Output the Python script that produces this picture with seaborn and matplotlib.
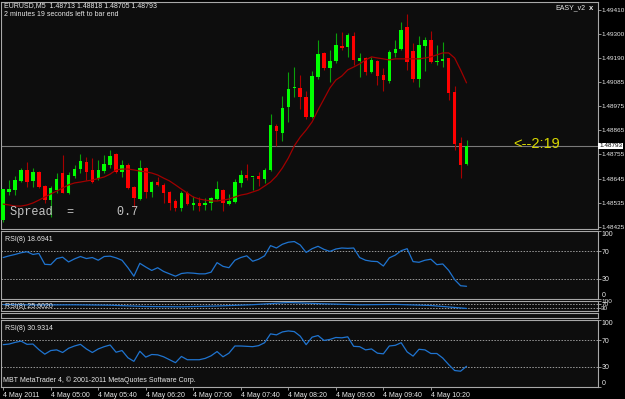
import matplotlib
matplotlib.use('Agg')
import matplotlib.pyplot as plt
import matplotlib.transforms as mtransforms
import numpy as np
import pandas as pd
import seaborn as sns

# EURUSD M5, 4 May 2011, bars from 04:20 to 10:50
opens = [1.48457, 1.48584, 1.48593, 1.48634, 1.48684, 1.48634, 1.48675, 1.48611, 1.48547, 1.48593,
         1.48670, 1.48579, 1.48656, 1.48688, 1.48720, 1.48684, 1.48647, 1.48679, 1.48706, 1.48756,
         1.48675, 1.48706, 1.48606, 1.48552, 1.48693, 1.48584, 1.48629, 1.48616, 1.48584, 1.48543,
         1.48511, 1.48579, 1.48525, 1.48534, 1.48525, 1.48534, 1.48552, 1.48593, 1.48529, 1.48538,
         1.48625, 1.48661, 1.48652, 1.48656, 1.48643, 1.48684, 1.48883, 1.48852, 1.48970, 1.49056,
         1.49056, 1.49015, 1.48924, 1.49106, 1.49215, 1.49147, 1.49179, 1.49247, 1.49242, 1.49292,
         1.49179, 1.49192, 1.49129, 1.49179, 1.49115, 1.49088, 1.49215, 1.49233, 1.49333, 1.49224,
         1.49097, 1.49247, 1.49274, 1.49174, 1.49179, 1.49192, 1.49038, 1.48806, 1.48713]
highs = [1.48597, 1.48638, 1.48656, 1.48693, 1.48720, 1.48693, 1.48679, 1.48616, 1.48611, 1.48670,
         1.48752, 1.48675, 1.48706, 1.48756, 1.48743, 1.48738, 1.48729, 1.48752, 1.48774, 1.48761,
         1.48729, 1.48715, 1.48611, 1.48729, 1.48697, 1.48634, 1.48652, 1.48625, 1.48588, 1.48552,
         1.48588, 1.48588, 1.48566, 1.48561, 1.48557, 1.48561, 1.48634, 1.48597, 1.48575, 1.48643,
         1.48684, 1.48711, 1.48652, 1.48675, 1.48693, 1.48938, 1.48892, 1.49020, 1.49129, 1.49151,
         1.49115, 1.49042, 1.49133, 1.49274, 1.49219, 1.49228, 1.49306, 1.49310, 1.49306, 1.49310,
         1.49215, 1.49197, 1.49197, 1.49183, 1.49147, 1.49228, 1.49274, 1.49356, 1.49392, 1.49260,
         1.49292, 1.49287, 1.49315, 1.49251, 1.49265, 1.49192, 1.49065, 1.48833, 1.48818]
lows = [1.48448, 1.48570, 1.48570, 1.48629, 1.48606, 1.48606, 1.48602, 1.48534, 1.48470, 1.48579,
        1.48579, 1.48575, 1.48647, 1.48670, 1.48638, 1.48625, 1.48638, 1.48670, 1.48693, 1.48670,
        1.48652, 1.48597, 1.48516, 1.48547, 1.48557, 1.48561, 1.48611, 1.48534, 1.48502, 1.48497,
        1.48497, 1.48525, 1.48502, 1.48497, 1.48502, 1.48502, 1.48547, 1.48497, 1.48525, 1.48534,
        1.48606, 1.48638, 1.48593, 1.48611, 1.48625, 1.48679, 1.48793, 1.48815, 1.48902, 1.49015,
        1.48961, 1.48915, 1.48920, 1.49097, 1.49138, 1.49083, 1.49169, 1.49228, 1.49197, 1.49160,
        1.49106, 1.49115, 1.49124, 1.49070, 1.49042, 1.49079, 1.49197, 1.49228, 1.49138, 1.49083,
        1.49060, 1.49133, 1.49169, 1.49160, 1.49151, 1.49001, 1.48774, 1.48647, 1.48705]
closes = [1.48597, 1.48597, 1.48638, 1.48684, 1.48629, 1.48675, 1.48606, 1.48547, 1.48602, 1.48643,
          1.48579, 1.48661, 1.48688, 1.48725, 1.48675, 1.48629, 1.48684, 1.48711, 1.48747, 1.48675,
          1.48706, 1.48602, 1.48557, 1.48693, 1.48584, 1.48629, 1.48616, 1.48579, 1.48534, 1.48511,
          1.48579, 1.48529, 1.48534, 1.48520, 1.48534, 1.48557, 1.48597, 1.48534, 1.48543, 1.48629,
          1.48661, 1.48647, 1.48654, 1.48643, 1.48684, 1.48888, 1.48861, 1.48965, 1.49051, 1.49060,
          1.49015, 1.48924, 1.49110, 1.49210, 1.49147, 1.49179, 1.49251, 1.49238, 1.49297, 1.49183,
          1.49192, 1.49129, 1.49183, 1.49110, 1.49092, 1.49219, 1.49233, 1.49319, 1.49174, 1.49097,
          1.49251, 1.49274, 1.49174, 1.49179, 1.49188, 1.49033, 1.48802, 1.48706, 1.48793]
ma = [1.48529, 1.48525, 1.48520, 1.48520, 1.48525, 1.48534, 1.48547, 1.48561, 1.48575, 1.48588,
      1.48602, 1.48616, 1.48625, 1.48629, 1.48634, 1.48638, 1.48645, 1.48652, 1.48665, 1.48684,
      1.48688, 1.48688, 1.48684, 1.48679, 1.48675, 1.48670, 1.48661, 1.48647, 1.48634, 1.48616,
      1.48597, 1.48579, 1.48561, 1.48552, 1.48547, 1.48543, 1.48543, 1.48547, 1.48552, 1.48561,
      1.48570, 1.48575, 1.48584, 1.48593, 1.48611, 1.48629, 1.48656, 1.48693, 1.48738, 1.48793,
      1.48833, 1.48865, 1.48902, 1.48956, 1.49006, 1.49056, 1.49092, 1.49110, 1.49138, 1.49151,
      1.49165, 1.49183, 1.49197, 1.49192, 1.49188, 1.49183, 1.49188, 1.49188, 1.49188, 1.49188,
      1.49188, 1.49192, 1.49197, 1.49206, 1.49215, 1.49215, 1.49192, 1.49138, 1.49079]

rsi_top = [61, 63.5, 65.5, 68, 69.5, 65.5, 67, 51, 50.5, 59.5,
           61.5, 54.5, 59, 62.5, 59.5, 61, 57, 62.5, 63, 60.5,
           57, 46, 33.5, 52.5, 47, 42, 46, 40.5, 37, 33.5,
           37.5, 38.5, 38, 37, 37, 39.5, 53.5, 48, 46, 57,
           61, 63.5, 55.5, 58.5, 63.5, 78.5, 75, 80.5, 83.5, 84.5,
           79.5, 68.5, 74, 77.5, 73, 70, 73.5, 75, 74.5, 75,
           61, 57, 55.5, 55, 48.5, 60.5, 64.5, 71, 74, 55,
           54, 57, 58.5, 50.5, 51.5, 42, 28.5, 19.5, 18.69]
rsi_bottom = [63.2, 64.1, 66.6, 68.5, 63.7, 64.1, 55.8, 49.0, 54.4, 55.4,
              51.5, 57.8, 61.2, 63.7, 56.8, 51.5, 56.8, 60.2, 62.7, 51.9,
              54.4, 43.6, 38.3, 53.4, 44.6, 48.5, 48.0, 45.1, 40.7, 36.3,
              45.6, 40.7, 40.7, 40.7, 42.7, 46.6, 52.9, 45.1, 50.5, 61.2,
              61.2, 60.7, 60.2, 61.7, 66.1, 79.3, 77.8, 82.2, 83.7, 82.7,
              75.9, 63.2, 74.4, 76.8, 69.5, 71.0, 73.9, 73.4, 74.9, 60.7,
              60.2, 55.4, 56.8, 50.5, 49.5, 61.2, 62.2, 66.1, 52.4, 46.1,
              56.3, 55.4, 50.0, 50.0, 43.2, 33.4, 24.6, 23.6, 30.93]
# squashed middle window, only readable every few bars
rsi_mid_bars = [0, 6, 12, 18, 24, 30, 36, 42, 48, 54, 60, 66, 72, 78]
rsi_mid = [64, 60, 62, 58, 45, 42, 50, 63, 85, 72, 62, 66, 55, 25.6]

price_ticks = [1.49410, 1.49300, 1.49190, 1.49085, 1.48975, 1.48865, 1.48755, 1.48645, 1.48535, 1.48425]
time_bars = [0, 8, 16, 24, 32, 40, 48, 56, 64, 72]
time_labels = ['4 May 2011', '4 May 05:00', '4 May 05:40', '4 May 06:20', '4 May 07:00',
               '4 May 07:40', '4 May 08:20', '4 May 09:00', '4 May 09:40', '4 May 10:20']
last_price = 1.48793

df = pd.DataFrame({'open': opens, 'high': highs, 'low': lows, 'close': closes,
                   'ma': ma, 'rsi_top': rsi_top, 'rsi_bottom': rsi_bottom})
df['bar'] = np.arange(len(df))
up = df['close'] >= df['open']

sns.set_style('dark', {'axes.facecolor': '#0d0d0d', 'figure.facecolor': 'black',
                       'axes.edgecolor': '#a8a8a8', 'axes.grid': False})
plt.rcParams['font.family'] = ['Liberation Sans', 'DejaVu Sans']

W, H = 625, 399
def box(x0, y0, x1, y1):
    return [x0 / W, 1 - y1 / H, (x1 - x0) / W, (y1 - y0) / H]

fig = plt.figure(figsize=(6.25, 3.99), dpi=100, facecolor='black')
ax = fig.add_axes(box(1.5, 2, 597.5, 229))
ax_r1 = fig.add_axes(box(1.5, 231, 597.5, 299))
ax_r2 = fig.add_axes(box(1.5, 301, 597.5, 311))
ax_e = fig.add_axes(box(1.5, 313, 597.5, 318))
ax_r3 = fig.add_axes(box(1.5, 320, 597.5, 387))

txt = '#e8e8e8'
fs = 5.0
for a in [ax, ax_r1, ax_r2, ax_e, ax_r3]:
    a.set_facecolor('#0d0d0d')
    a.set_xlim(-0.29, 100.05)
    for s in a.spines.values():
        s.set_color('#a8a8a8')
        s.set_linewidth(0.8)
    a.yaxis.tick_right()
    a.tick_params(axis='y', colors='#a8a8a8', labelcolor=txt, labelsize=fs, length=2.2, pad=0.6, width=0.6)
    a.tick_params(axis='x', bottom=False, labelbottom=False)
    a.set_xlabel('')
    a.set_ylabel('')
ax_e.set_yticks([])

# main chart: candles + moving average
ax.set_ylim(1.48416, 1.49446)
ax.axhline(last_price, color='#7a7a7a', lw=0.8, zorder=1)
ax.vlines(df['bar'], df['low'], df['high'], colors=np.where(up, '#0aa00a', '#a80000'), lw=0.8, zorder=2)
body = np.maximum((df['close'] - df['open']).abs(), 0.00003)
ax.bar(df['bar'], body, bottom=np.minimum(df['open'], df['close']), width=0.58,
       color=np.where(up, '#00ff00', '#ff0000'), linewidth=0, zorder=3)
sns.lineplot(data=df, x='bar', y='ma', ax=ax, color='#a00000', lw=0.9, zorder=4)
ax.set_xlabel('')
ax.set_ylabel('')
ax.set_yticks(price_ticks)
ax.set_yticklabels([f'{p:.5f}' for p in price_ticks])
ax.tick_params(axis='y', labelsize=4.6, pad=0.5)
ax.text(1 + 1.5 / 596, last_price, f'{last_price:.5f}', color='black', fontsize=4.6, ha='left', va='center',
        transform=mtransforms.blended_transform_factory(ax.transAxes, ax.transData),
        bbox=dict(fc='white', ec='none', pad=0.6), clip_on=False, zorder=10)

# RSI windows
for a, col, lab in [(ax_r1, 'rsi_top', 'RSI(8) 18.6941'), (ax_r3, 'rsi_bottom', 'RSI(8) 30.9314')]:
    a.set_ylim(0, 100)
    for lvl in (70, 30):
        a.axhline(lvl, color='#9a9a9a', lw=0.7, ls=(0, (1.5, 1.5)))
    sns.lineplot(data=df, x='bar', y=col, ax=a, color='#1f74d0', lw=0.9)
    a.set_xlabel('')
    a.set_ylabel('')
    a.set_yticks([0, 30, 70, 100])
    a.set_yticklabels(['0', '30', '70', '100'])
    tl = a.get_yticklabels()
    tl[0].set_va('bottom')
    tl[-1].set_va('top')
    a.text(0.006, 0.93, lab, transform=a.transAxes, color=txt, fontsize=fs, va='top', ha='left')

ax_r2.set_ylim(0, 100)
for lvl in (70, 30):
    ax_r2.axhline(lvl, color='#9a9a9a', lw=0.7, ls=(0, (1.5, 1.5)))
sns.lineplot(x=rsi_mid_bars, y=rsi_mid, ax=ax_r2, color='#1f74d0', lw=0.9)
ax_r2.set_yticks([30, 70, 100])
ax_r2.set_yticklabels(['30', '70', '100'])
ax_r2.tick_params(axis='y', labelsize=4.6, pad=0.5)
ax_r2.text(0.006, 0.45, 'RSI(8) 25.6020', transform=ax_r2.transAxes, color=txt, fontsize=fs, va='center')

# time axis under the last window
ax_r3.set_xticks(time_bars)
ax_r3.set_xticklabels(time_labels, ha='left')
ax_r3.tick_params(axis='x', bottom=True, labelbottom=True, colors='#a8a8a8', labelcolor=txt,
                  labelsize=fs, length=2.5, pad=1, width=0.6)
ax_r3.text(0.003, 0.05, 'MBT MetaTrader 4, © 2001-2011 MetaQuotes Software Corp.', transform=ax_r3.transAxes,
           color=txt, fontsize=fs, va='bottom', ha='left')

# overlay texts
fig.text(4 / W, 1 - 6 / H, 'EURUSD,M5  1.48713 1.48818 1.48705 1.48793', color=txt, fontsize=fs, va='center')
fig.text(4 / W, 1 - 14.5 / H, '2 minutes 19 seconds left to bar end', color=txt, fontsize=fs, va='center')
fig.text(585 / W, 1 - 8 / H, 'EASY_v2', color=txt, fontsize=fs, va='center', ha='right')
fig.text(589 / W, 1 - 8 / H, 'x', color=txt, fontsize=5.5, va='center', ha='left', fontweight='bold')
fig.text(513 / W, 1 - 143.5 / H, '<--2:19', color='#d8d800', fontsize=10.5, va='center', ha='left')
fig.text(10 / W, 1 - 212 / H, 'Spread  =      0.7', color='#c4c4c4', fontsize=8.6, va='center', ha='left',
         family='Liberation Mono')

fig.savefig('out.png', dpi=100, facecolor='black')
